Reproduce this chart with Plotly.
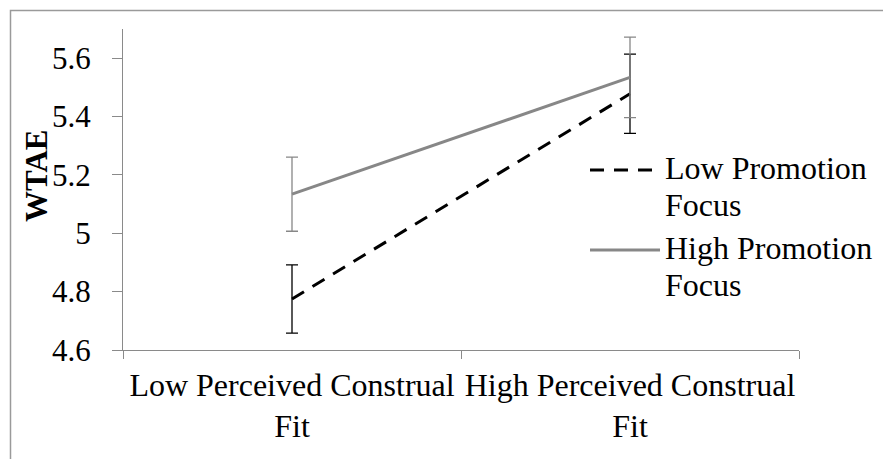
import plotly.graph_objects as go

categories = ["Low Perceived Construal<br>Fit", "High Perceived Construal<br>Fit"]
series_names = ["Low Promotion<br>Focus", "High Promotion<br>Focus"]
low_promotion = [4.775, 5.478]
low_promotion_err = [0.117, 0.136]
high_promotion = [5.134, 5.534]
high_promotion_err = [0.127, 0.138]
y_ticks = [4.6, 4.8, 5.0, 5.2, 5.4, 5.6]
y_tick_labels = ["4.6", "4.8", "5", "5.2", "5.4", "5.6"]

FONT = "Liberation Serif"
GRAY = "#878787"
AXIS = "#8a8a8a"

# plot area in pixels
L, R, T, B = 123, 799, 29, 350
W, H = 883, 459

def px_x(p):
    return (p - L) / (R - L)

def px_y(p):
    return (B - p) / (B - T)

fig = go.Figure()
fig.add_trace(go.Scatter(
    x=categories, y=low_promotion, name=series_names[0], mode="lines",
    line=dict(color="black", width=3, dash="14px,10px"),
    error_y=dict(type="data", array=low_promotion_err, color="black", thickness=1.3, width=6),
    showlegend=False,
))
fig.add_trace(go.Scatter(
    x=categories, y=high_promotion, name=series_names[1], mode="lines",
    line=dict(color=GRAY, width=3),
    error_y=dict(type="data", array=high_promotion_err, color=GRAY, thickness=1.3, width=6),
    showlegend=False,
))

# manual legend (longer key lines and tighter line spacing than the native legend allows)
legend_rows = [(170, dict(color="black", width=3, dash="14px,10px")),
               (250, dict(color=GRAY, width=3, dash="solid"))]
for (ypx, ln), name in zip(legend_rows, series_names):
    fig.add_shape(type="line", xref="paper", yref="paper",
                  x0=px_x(590), x1=px_x(660), y0=px_y(ypx), y1=px_y(ypx), line=ln)
    for i, part in enumerate(name.split("<br>")):
        fig.add_annotation(xref="paper", yref="paper", x=px_x(663),
                           y=px_y(ypx - 22 + 37 * i),
                           xanchor="left", yanchor="top", align="left", showarrow=False,
                           text=part, font=dict(family=FONT, size=32, color="black"))

# y-axis title
fig.add_annotation(xref="paper", yref="paper", x=px_x(36), y=px_y(176),
                   xanchor="center", yanchor="middle", textangle=-90, showarrow=False,
                   text="<b>WTAE</b>", font=dict(family=FONT, size=31, color="black"))

# chart border (cropped by the page edges)
fig.add_shape(type="rect", xref="paper", yref="paper",
              x0=px_x(10.5), x1=px_x(W + 20), y0=px_y(W), y1=px_y(10.5),
              line=dict(color="#9a9a9a", width=1.5), layer="below")

fig.update_layout(
    width=W, height=H,
    margin=dict(l=L, r=W - R, t=T, b=H - B, autoexpand=False),
    paper_bgcolor="white", plot_bgcolor="white",
    font=dict(family=FONT, size=32, color="black"),
    showlegend=False,
    xaxis=dict(type="category", range=[-0.5, 1.5], tickson="boundaries",
               ticks="outside", ticklen=8, tickcolor=AXIS, tickwidth=1.3,
               showline=True, linecolor=AXIS, linewidth=1.3, showgrid=False,
               zeroline=False, ticklabelstandoff=6, tickangle=0, automargin=False,
               tickfont=dict(family=FONT, size=32, color="black")),
    yaxis=dict(range=[4.6, 5.7], tickvals=y_ticks, ticktext=y_tick_labels,
               ticks="outside", ticklen=10, tickcolor=AXIS, tickwidth=1.3,
               showline=True, linecolor=AXIS, linewidth=1.3, showgrid=False,
               zeroline=False, ticklabelstandoff=15, automargin=False,
               tickfont=dict(family=FONT, size=31, color="black")),
)

fig.write_html("out.html")
